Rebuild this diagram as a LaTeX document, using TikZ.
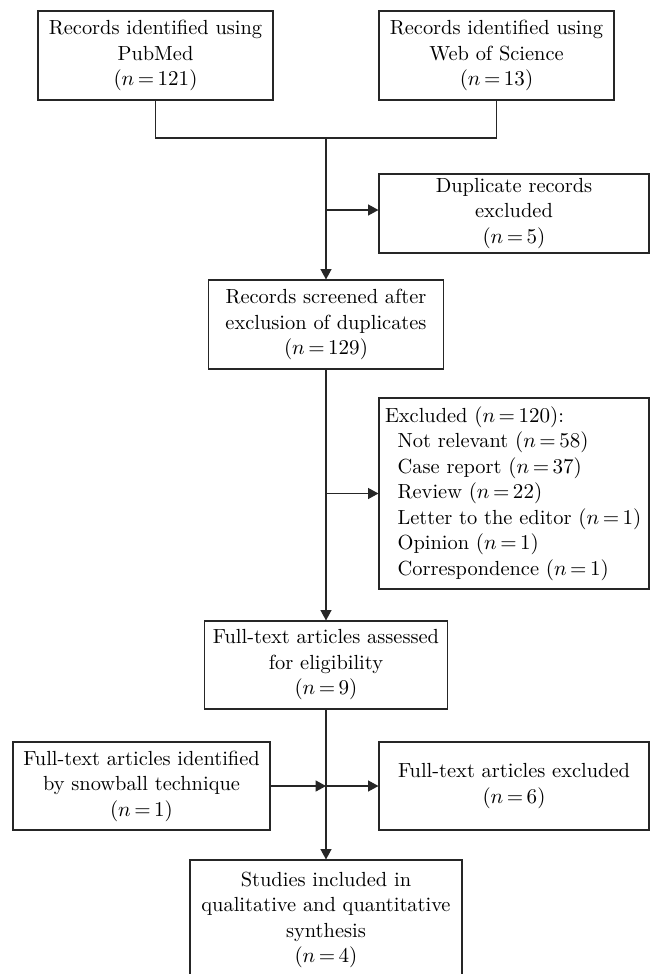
\documentclass[tikz,border=0pt]{standalone}
\usetikzlibrary{arrows.meta}
\newlength{\du}
\setlength{\du}{0.475pt}
\definecolor{dialinecolor}{rgb}{0.15, 0.15, 0.15}
\tikzset{
  recbox/.style={draw=dialinecolor, line width=1.1\du, fill=white, align=center,
    inner sep=0pt, font=\fontsize{9.7}{12.1}\selectfont},
  flowline/.style={draw=dialinecolor, line width=1.1\du},
  flowarrow/.style={flowline, -{Triangle[length=4.9pt,width=5.2pt]}}
}
\begin{document}
\begin{tikzpicture}
\pgftransformyscale{-1}
\clip (0\du,0\du) rectangle (651\du,974\du);
% sources
\node[recbox, minimum width=235\du, minimum height=89\du] (pubmed) at (155.5\du,55.5\du)
  {Records identified using\\PubMed\\$(n\,{=}\,121)$};
\node[recbox, minimum width=235\du, minimum height=89\du] (wos) at (496.5\du,55.5\du)
  {Records identified using\\Web of Science\\$(n\,{=}\,13)$};
\coordinate (join) at (326\du,138\du);
\coordinate (dupjoin) at (326\du,210\du);
% screening
\node[recbox, minimum width=270\du, minimum height=79\du] (dupl) at (514\du,213.5\du)
  {Duplicate records\\excluded\\$(n\,{=}\,5)$};
\node[recbox, minimum width=235\du, minimum height=89\du] (screen) at (326\du,324.5\du)
  {Records screened after\\exclusion of duplicates\\$(n\,{=}\,129)$};
\node[recbox, align=left, text width=258\du, inner xsep=6\du, minimum height=191\du] (excl) at (514\du,493.5\du)
  {Excluded $(n\,{=}\,120)$:\\
   \hspace*{6pt}Not relevant $(n\,{=}\,58)$\\
   \hspace*{6pt}Case report $(n\,{=}\,37)$\\
   \hspace*{6pt}Review $(n\,{=}\,22)$\\
   \hspace*{6pt}Letter to the editor $(n\,{=}\,1)$\\
   \hspace*{6pt}Opinion $(n\,{=}\,1)$\\
   \hspace*{6pt}Correspondence $(n\,{=}\,1)$};
% eligibility
\node[recbox, minimum width=243\du, minimum height=88\du] (assess) at (326\du,665\du)
  {Full-text articles assessed\\for eligibility\\$(n\,{=}\,9)$};
\node[recbox, minimum width=257\du, minimum height=88\du] (snow) at (141.5\du,786\du)
  {Full-text articles identified\\by snowball technique\\$(n\,{=}\,1)$};
\node[recbox, minimum width=270\du, minimum height=88\du] (ftexcl) at (514\du,786\du)
  {Full-text articles excluded\\$(n\,{=}\,6)$};
\coordinate (hub) at (assess.south |- snow.east);
\node[recbox, minimum width=272\du, minimum height=120\du] (studies) at (326\du,920\du)
  {Studies included in\\qualitative and quantitative\\synthesis\\$(n\,{=}\,4)$};
% connectors
\draw[flowline] (pubmed.south) |- (join) -| (wos.south);
\draw[flowarrow] (join) -- (screen.north);
\draw[flowarrow] (dupjoin) -- (dupjoin -| dupl.west);
\draw[flowarrow] (screen.south) -- (assess.north);
\draw[flowarrow] (screen.south |- excl.west) -- (excl.west);
\draw[flowarrow] (assess.south) -- (studies.north);
\draw[flowarrow] (snow.east) -- (hub);
\draw[flowarrow] (hub) -- (ftexcl.west);
\end{tikzpicture}
\end{document}
